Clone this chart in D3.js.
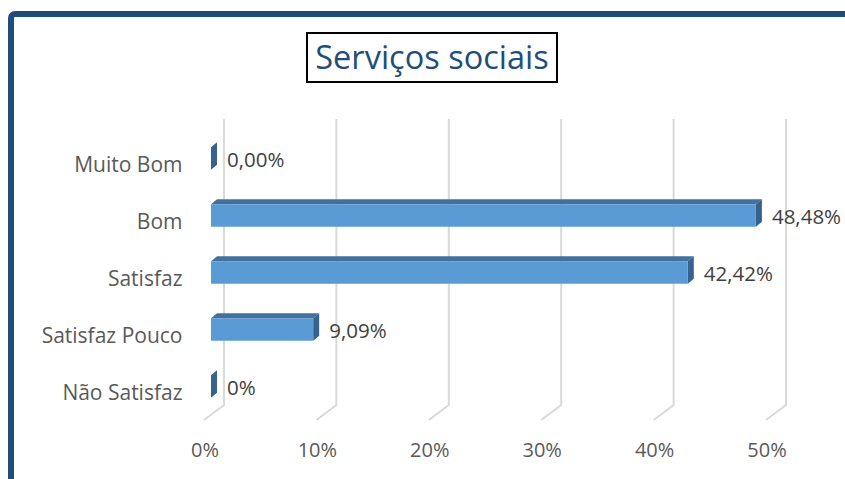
<!DOCTYPE html>
<html>
<head>
<meta charset="utf-8">
<script src="https://cdn.jsdelivr.net/npm/d3@7"></script>
<style>
  html, body { margin: 0; padding: 0; background: #ffffff; }
  svg { display: block; }
  text { font-family: "Open Sans", "Noto Sans", sans-serif; }
</style>
</head>
<body>
<svg id="chart" width="845" height="479"></svg>
<script>
// Survey results: rating of social services
const categories = ["Muito Bom", "Bom", "Satisfaz", "Satisfaz Pouco", "Não Satisfaz"];
const values = [0, 48.48, 42.42, 9.09, 0];
const valueLabels = ["0,00%", "48,48%", "42,42%", "9,09%", "0%"];
const tickValues = [0, 10, 20, 30, 40, 50];
const tickLabels = ["0%", "10%", "20%", "30%", "40%", "50%"];
const title = "Serviços sociais";

const svg = d3.select("#chart");

// Frame of the chart area
svg.append("rect")
  .attr("x", 11).attr("y", 14)
  .attr("width", 900).attr("height", 520)
  .attr("rx", 4)
  .attr("fill", "#ffffff")
  .attr("stroke", "#1f4e79")
  .attr("stroke-width", 6);

// Title in a boxed frame
svg.append("rect")
  .attr("x", 307).attr("y", 33)
  .attr("width", 250).attr("height", 49)
  .attr("fill", "#ffffff")
  .attr("stroke", "#000000")
  .attr("stroke-width", 2);
svg.append("text")
  .attr("x", 432).attr("y", 69)
  .attr("text-anchor", "middle")
  .attr("font-size", 32.5)
  .attr("fill", "#1f4e79")
  .text(title);

// Horizontal value scale on the back wall of the 3D plot
const backX0 = 224;
const x = d3.scaleLinear().domain([0, 50]).range([backX0, backX0 + 562]);
const wallTop = 119, wallBottom = 405;
const floorDX = -20, floorDY = 15;     // depth of the floor
const barFrontDX = -13;                // bar front face offset from the wall
const barDepthDX = 6, barDepthDY = -5; // bar depth (top / side faces)

const y = d3.scalePoint().domain(categories).range([158.5, 386.5]);
const barH = 22.5;

// Gridlines: vertical on the back wall, then slanting across the floor
const grid = svg.append("g");
tickValues.forEach(t => {
  const gx = x(t);
  grid.append("path")
    .attr("d", `M${gx},${wallTop} L${gx},${wallBottom} L${gx + floorDX},${wallBottom + floorDY}`)
    .attr("fill", "none")
    .attr("stroke", "#d9d9d9")
    .attr("stroke-width", 2);
});

// Axis tick labels along the front edge of the floor
svg.append("g").selectAll("text")
  .data(tickValues)
  .join("text")
  .attr("x", d => x(d) + floorDX + 1)
  .attr("y", 457)
  .attr("text-anchor", "middle")
  .attr("font-size", 20)
  .attr("fill", "#595959")
  .text((d, i) => tickLabels[i]);

// Category labels
svg.append("g").selectAll("text")
  .data(categories)
  .join("text")
  .attr("x", 182.5)
  .attr("y", d => y(d) + 13)
  .attr("text-anchor", "end")
  .attr("font-size", 21)
  .attr("fill", "#595959")
  .text(d => d);

// 3D bars: top face, side face and front face
const bars = svg.append("g").selectAll("g")
  .data(categories.map((c, i) => ({ c, v: values[i], label: valueLabels[i] })))
  .join("g");

bars.each(function (d) {
  const g = d3.select(this);
  const x0 = x(0) + barFrontDX;
  const x1 = x(d.v) + barFrontDX;
  const yt = y(d.c) - barH / 2;
  const yb = y(d.c) + barH / 2;
  // top face
  g.append("path")
    .attr("d", `M${x0},${yt} L${x0 + barDepthDX},${yt + barDepthDY} L${x1 + barDepthDX},${yt + barDepthDY} L${x1},${yt} Z`)
    .attr("fill", "#41719c");
  // side face
  g.append("path")
    .attr("d", `M${x1},${yt} L${x1 + barDepthDX},${yt + barDepthDY} L${x1 + barDepthDX},${yb + barDepthDY} L${x1},${yb} Z`)
    .attr("fill", "#37628e");
  // front face
  if (x1 > x0) {
    g.append("rect")
      .attr("x", x0).attr("y", yt)
      .attr("width", x1 - x0).attr("height", barH)
      .attr("fill", "#5b9bd5");
  }
  // value label
  g.append("text")
    .attr("x", x1 + 16)
    .attr("y", y(d.c) + 8)
    .attr("font-size", 20.5)
    .attr("fill", "#404040")
    .text(d.label);
});
</script>
</body>
</html>
